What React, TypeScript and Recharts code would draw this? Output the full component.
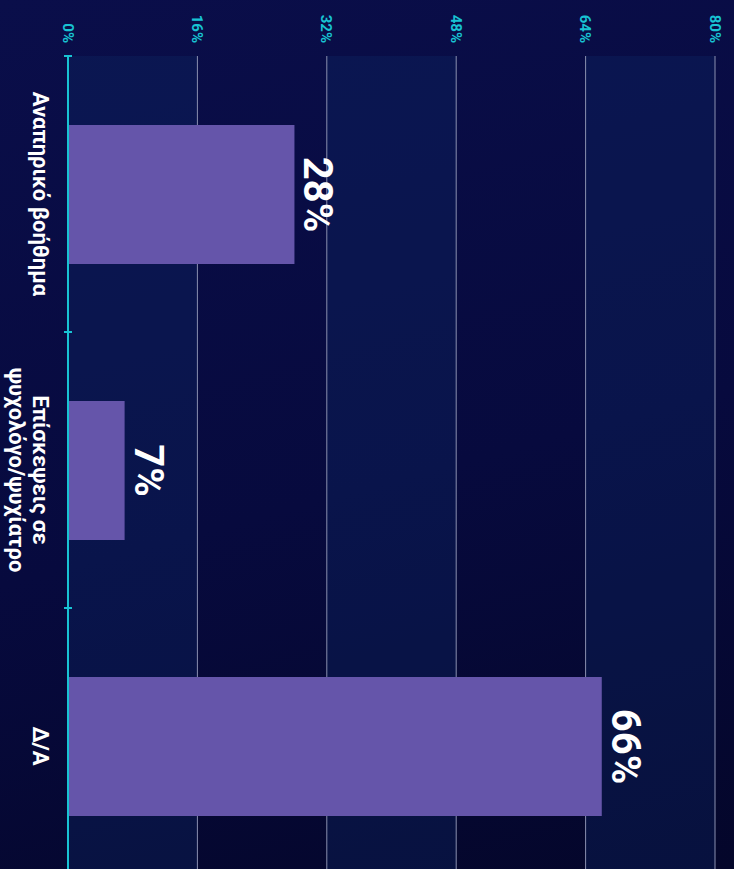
import React from 'react';
import { BarChart, Bar, XAxis, YAxis, CartesianGrid, LabelList } from 'recharts';

// categories and values
const categories = ['Αναπηρικό βοήθημα', 'Επίσκεψεις σε\nψυχολόγο/ψυχίατρο', 'Δ/Α'];
const values = [28, 7, 66];
const valueTicks = [0, 16, 32, 48, 64, 80];

const CYAN = '#18c3d3';
const BAR = '#6555aa';

// chart is drawn as a column chart and turned 90deg clockwise
const CHART_W = 900;
const CHART_H = 734;
const MARGIN = { top: 19, right: 16, left: 0, bottom: 0 };
const Y_AXIS_W = 56;
const PLOT_W = CHART_W - MARGIN.left - MARGIN.right - Y_AXIS_W;
const BAND_HALF = PLOT_W / categories.length / 2;

const data = categories.map((name, i) => ({ name, value: values[i] }));

const CategoryTick = (props: any) => {
  const { x, y, payload } = props;
  const lines = String(payload.value).split('\n');
  return (
    <g>
      <line x1={x - BAND_HALF} x2={x - BAND_HALF} y1={y - 4} y2={y + 4} stroke={CYAN} strokeWidth={2} />
      <text x={x} y={y + 35} textAnchor="middle" fill="#ffffff" fontSize={22} fontWeight="bold">
        {lines.map((l, i) => (
          <tspan key={i} x={x} dy={i === 0 ? 0 : 24}>
            {l}
          </tspan>
        ))}
      </text>
    </g>
  );
};

const App: React.FC = () => {
  return (
    <div
      style={{
        position: 'absolute',
        left: 0,
        top: 0,
        width: 734,
        height: 869,
        overflow: 'hidden',
        background: 'linear-gradient(165deg, #0a0e4a 0%, #070a3e 55%, #04062a 100%)',
        fontFamily: 'Roboto, sans-serif',
      }}
    >
      <div
        style={{
          position: 'absolute',
          left: 0,
          top: 0,
          width: CHART_W,
          height: CHART_H,
          transform: 'translateX(734px) rotate(90deg)',
          transformOrigin: '0 0',
        }}
      >
        <BarChart width={CHART_W} height={CHART_H} data={data} margin={MARGIN}>
          <CartesianGrid
            vertical={false}
            stroke="#8a90b0"
            strokeWidth={1}
            horizontalFill={['rgba(14,40,100,0.35)', 'rgba(0,0,0,0)']}
            fillOpacity={1}
          />
          <XAxis
            dataKey="name"
            height={68}
            interval={0}
            tickLine={false}
            tickSize={0}
            tickMargin={0}
            axisLine={{ stroke: CYAN, strokeWidth: 2 }}
            tick={<CategoryTick />}
          />
          <YAxis
            width={Y_AXIS_W}
            domain={[0, 80]}
            ticks={valueTicks}
            interval={0}
            axisLine={false}
            tickLine={false}
            tickMargin={7}
            tickFormatter={(v: number) => `${v}%`}
            tick={{ fill: CYAN, fontSize: 15, fontWeight: 'bold' }}
          />
          <Bar dataKey="value" fill={BAR} barSize={139} isAnimationActive={false}>
            <LabelList
              dataKey="value"
              position="top"
              offset={10}
              fill="#ffffff"
              fontSize={40}
              fontWeight="bold"
              formatter={(v: any) => `${v}%`}
            />
          </Bar>
        </BarChart>
      </div>
    </div>
  );
};

export default App;
